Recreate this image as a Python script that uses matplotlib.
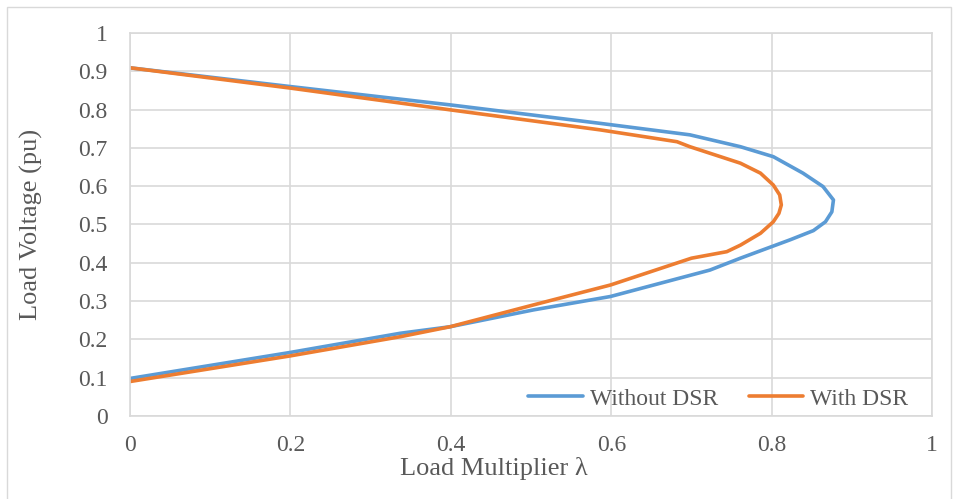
import numpy as np
import matplotlib
matplotlib.use("Agg")
import matplotlib.pyplot as plt
from matplotlib.ticker import FuncFormatter, MultipleLocator
from matplotlib.patches import Rectangle

plt.rcParams.update({
    "font.family": ["Liberation Serif", "DejaVu Serif"],
    "font.size": 17,
})

# PV curves, traced from top branch to bottom branch
lam_without = [0, 0.2, 0.4, 0.586, 0.698, 0.761, 0.802, 0.839, 0.864, 0.877, 0.875,
               0.867, 0.852, 0.823, 0.761, 0.723, 0.599, 0.503, 0.399, 0.337, 0.2, 0]
v_without = [0.909, 0.860, 0.812, 0.764, 0.734, 0.703, 0.677, 0.634, 0.599, 0.564, 0.533,
             0.507, 0.484, 0.460, 0.412, 0.381, 0.312, 0.277, 0.233, 0.216, 0.166, 0.098]

lam_with = [0, 0.2, 0.4, 0.586, 0.682, 0.698, 0.761, 0.786, 0.802, 0.810, 0.812, 0.809,
            0.802, 0.786, 0.761, 0.744, 0.700, 0.599, 0.503, 0.399, 0.337, 0.2, 0]
v_with = [0.909, 0.856, 0.799, 0.747, 0.716, 0.703, 0.660, 0.634, 0.603, 0.577, 0.551, 0.529,
          0.507, 0.477, 0.446, 0.429, 0.412, 0.342, 0.290, 0.233, 0.207, 0.157, 0.090]

BLUE = "#5B9BD5"
ORANGE = "#ED7D31"
GRID = "#d9d9d9"
TXT = "#595959"

fig = plt.figure(figsize=(9.57, 4.99), dpi=100)
ax = fig.add_axes([0.1358, 0.1663, 0.974 - 0.1358, 0.934 - 0.1663])

ax.plot(lam_without, v_without, color=BLUE, lw=2.6, label="Without DSR",
        solid_joinstyle="round", solid_capstyle="round")
ax.plot(lam_with, v_with, color=ORANGE, lw=2.6, label="With DSR",
        solid_joinstyle="round", solid_capstyle="round")

ax.set_xlim(0, 1)
ax.set_ylim(0, 1)
ax.xaxis.set_major_locator(MultipleLocator(0.2))
ax.yaxis.set_major_locator(MultipleLocator(0.1))
fmt = FuncFormatter(lambda v, p: "%g" % round(v, 2))
ax.xaxis.set_major_formatter(fmt)
ax.yaxis.set_major_formatter(fmt)
ax.grid(True, color=GRID, lw=1.2)
ax.set_axisbelow(True)
for s in ax.spines.values():
    s.set_color(GRID)
    s.set_linewidth(1.2)
ax.tick_params(length=0, colors=TXT, labelsize=17)
ax.tick_params(axis="y", pad=16)
ax.tick_params(axis="x", pad=14)

ax.set_xlabel("Load Multiplier λ", color=TXT, fontsize=19)
ax.xaxis.set_label_coords(0.454, -0.108)
ax.set_ylabel("Load Voltage (pu)", color=TXT, fontsize=19)
ax.yaxis.set_label_coords(-0.108, 0.5)

leg = ax.legend(loc="lower right", ncol=2, frameon=False, fontsize=17,
                handlelength=2.3, columnspacing=1.3, handletextpad=0.3,
                borderaxespad=0, bbox_to_anchor=(0.982, -0.008), labelcolor=TXT)

fig.patches.append(Rectangle((7 / 957, -0.01), 944 / 957, 0.995, transform=fig.transFigure,
                             fill=False, edgecolor=GRID, lw=1))

fig.savefig("out.png", dpi=100)
